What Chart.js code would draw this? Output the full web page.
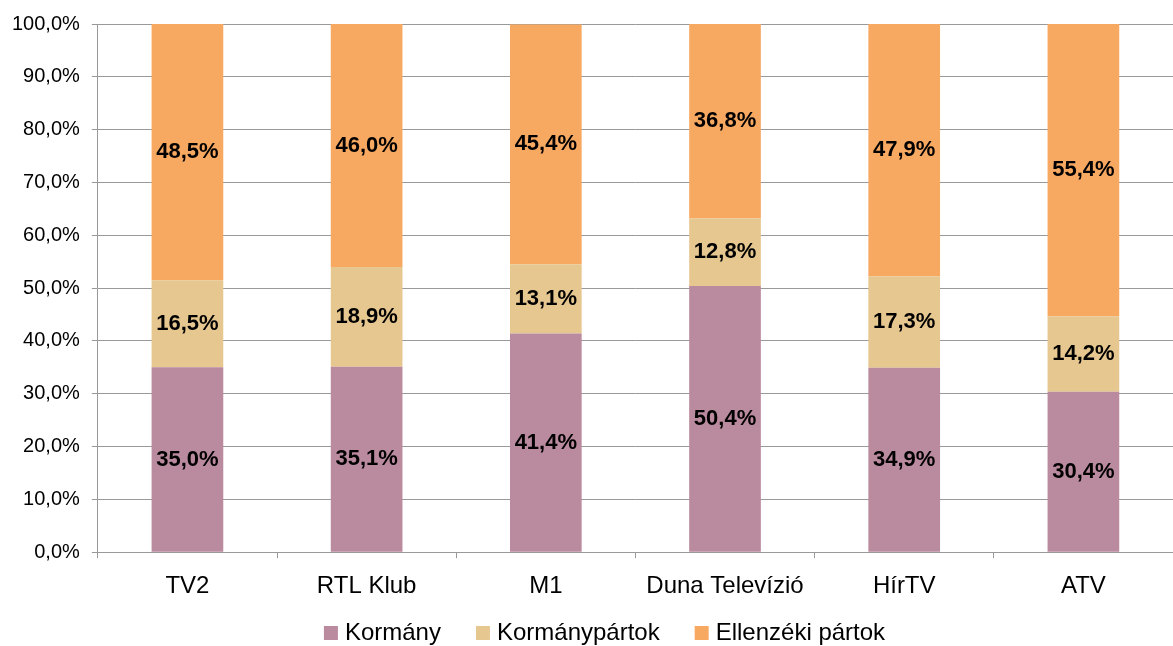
<!DOCTYPE html>
<html>
<head>
<meta charset="utf-8">
<script src="https://cdn.jsdelivr.net/npm/chart.js@4/dist/chart.umd.min.js"></script>
<style>
  html, body { margin: 0; padding: 0; background: #fff; }
  #wrap { width: 1173px; height: 646px; }
</style>
</head>
<body>
<div id="wrap"><canvas id="chart" width="1173" height="646"></canvas></div>
<script>
// Chart data
const categories = ['TV2', 'RTL Klub', 'M1', 'Duna Televízió', 'HírTV', 'ATV'];
const kormany = [35.0, 35.1, 41.4, 50.4, 34.9, 30.4];
const kormanyPartok = [16.5, 18.9, 13.1, 12.8, 17.3, 14.2];
const ellenzeki = [48.5, 46.0, 45.4, 36.8, 47.9, 55.4];
const yTicks = [0, 10, 20, 30, 40, 50, 60, 70, 80, 90, 100];

const FONT = '"Liberation Sans", Arial, sans-serif';
const fmt = v => v.toFixed(1).replace('.', ',') + '%';

// Draw value labels in the middle of each bar segment
const barLabels = {
    id: 'barLabels',
    afterDatasetsDraw(chart) {
        const ctx = chart.ctx;
        ctx.save();
        ctx.font = 'bold 22px ' + FONT;
        ctx.fillStyle = '#000';
        ctx.textAlign = 'center';
        ctx.textBaseline = 'middle';
        chart.data.datasets.forEach((ds, i) => {
            chart.getDatasetMeta(i).data.forEach((bar, j) => {
                const top = Math.max(bar.y, chart.chartArea.top);
                ctx.fillText(fmt(ds.data[j]), bar.x, (top + bar.base) / 2);
            });
        });
        ctx.restore();
    }
};

// Bottom legend drawn by hand (tight box/text spacing like the original)
const bottomLegend = {
    id: 'bottomLegend',
    afterDraw(chart) {
        const ctx = chart.ctx;
        const box = 14, gap = 7, spacing = 35;
        ctx.save();
        ctx.font = '24px ' + FONT;
        const items = chart.data.datasets.map(ds => ({
            text: ds.label, color: ds.backgroundColor, w: ctx.measureText(ds.label).width
        }));
        const total = items.reduce((s, it) => s + box + gap + it.w, 0) + spacing * (items.length - 1);
        let x = chart.width / 2 + 18 - total / 2;
        const y = 633;
        ctx.textBaseline = 'middle';
        ctx.textAlign = 'left';
        items.forEach(it => {
            ctx.fillStyle = it.color;
            ctx.fillRect(x, y - box / 2, box, box);
            ctx.fillStyle = '#000';
            ctx.fillText(it.text, x + box + gap, y);
            x += box + gap + it.w + spacing;
        });
        ctx.restore();
    }
};

new Chart(document.getElementById('chart'), {
    type: 'bar',
    data: {
        labels: categories,
        datasets: [
            { label: 'Kormány', data: kormany, backgroundColor: '#BA8A9E' },
            { label: 'Kormánypártok', data: kormanyPartok, backgroundColor: '#E6C78F' },
            { label: 'Ellenzéki pártok', data: ellenzeki, backgroundColor: '#F7A962' }
        ]
    },
    options: {
        responsive: false,
        animation: false,
        layout: { padding: { top: 22, right: 0, left: 0, bottom: 31 } },
        datasets: { bar: { categoryPercentage: 0.4, barPercentage: 1.0, borderWidth: 0 } },
        plugins: {
            legend: { display: false },
            tooltip: { enabled: false }
        },
        scales: {
            x: {
                stacked: true,
                grid: { drawOnChartArea: false, offset: true, color: '#999', tickLength: 6 },
                border: { color: '#999' },
                ticks: {
                    color: '#000',
                    padding: 14,
                    font: { size: 24, family: FONT }
                }
            },
            y: {
                stacked: true,
                min: 0,
                max: 100,
                afterBuildTicks: axis => { axis.ticks = yTicks.map(v => ({ value: v })); },
                grid: { color: '#999', tickLength: 6 },
                border: { color: '#999' },
                ticks: {
                    color: '#000',
                    padding: 12,
                    font: { size: 20, family: FONT },
                    callback: v => fmt(v)
                }
            }
        }
    },
    plugins: [barLabels, bottomLegend]
});
</script>
</body>
</html>
